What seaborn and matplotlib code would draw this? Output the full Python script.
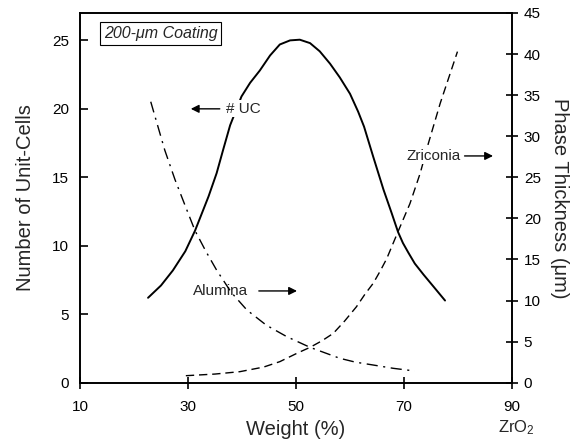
import numpy as np
import pandas as pd
import matplotlib
matplotlib.use("Agg")
import matplotlib.pyplot as plt
import seaborn as sns

# Data
uc_weight = [22.6, 25.0, 27.2, 29.5, 31.3, 32.5, 33.8, 35.3, 36.5, 37.8, 39.9, 41.5, 43.3,
             45.2, 47.0, 48.9, 50.7, 52.6, 54.4, 56.3, 58.1, 60.0, 61.5, 62.6, 64.3,
             66.2, 67.7, 68.9, 69.8, 70.8, 72.0, 73.6, 75.5, 77.6]
uc_count = [6.2, 7.1, 8.2, 9.6, 11.1, 12.3, 13.6, 15.3, 17.0, 18.8, 20.9, 21.9, 22.8,
            23.9, 24.7, 25.0, 25.05, 24.8, 24.2, 23.3, 22.3, 21.1, 19.8, 18.7, 16.5,
            14.1, 12.4, 11.0, 10.2, 9.5, 8.7, 7.9, 7.0, 6.0]

alumina_weight = [23.1, 25.7, 27.6, 29.5, 31.3, 33.3, 35.3, 38.0, 40.9, 44.5, 48.3, 52.6,
                  55.5, 58.1, 61.0, 64.3, 68.0, 72.0]
alumina_thick = [34.2, 28.3, 24.7, 21.5, 18.5, 16.0, 13.7, 11.0, 8.85, 7.0, 5.6, 4.3,
                 3.6, 2.97, 2.5, 2.15, 1.75, 1.42]

zirconia_weight = [29.6, 35.0, 39.6, 44.0, 47.0, 50.4, 52.6, 54.8, 56.9, 59.0, 61.2, 62.8,
                   64.3, 65.6, 66.8, 68.9, 71.1, 73.0, 74.5, 76.7, 79.9]
zirconia_thick = [0.85, 1.05, 1.34, 1.9, 2.56, 3.65, 4.3, 5.1, 6.0, 7.5, 9.25, 10.8,
                  12.1, 13.6, 15.1, 18.4, 21.8, 25.5, 29.1, 34.0, 40.3]

x_ticks = [10, 30, 50, 70, 90]
left_ticks = [0, 5, 10, 15, 20, 25]
right_ticks = [0, 5, 10, 15, 20, 25, 30, 35, 40, 45]

uc = pd.DataFrame({"Weight": uc_weight, "UC": uc_count})
alumina = pd.DataFrame({"Weight": alumina_weight, "Thickness": alumina_thick})
zirconia = pd.DataFrame({"Weight": zirconia_weight, "Thickness": zirconia_thick})

sns.set_style("ticks")
plt.rcParams["font.family"] = ["Liberation Sans", "DejaVu Sans"]
plt.rcParams["mathtext.default"] = "regular"

fig = plt.figure(figsize=(5.76, 4.42), dpi=100)
ax = fig.add_axes([0.1389, 0.1342, 0.75, 0.8364])
ax2 = ax.twinx()

sns.lineplot(data=uc, x="Weight", y="UC", ax=ax, color="black", linewidth=1.4)
sns.lineplot(data=alumina, x="Weight", y="Thickness", ax=ax2, color="black",
             linewidth=1.0, linestyle=(0, (8, 4, 1.5, 4)))
sns.lineplot(data=zirconia, x="Weight", y="Thickness", ax=ax2, color="black",
             linewidth=1.0, linestyle=(0, (6, 3.5)))

ax.set_xlim(10, 90)
ax.set_ylim(0, 27)
ax2.set_ylim(0, 45)
ax.set_xticks(x_ticks)
ax.set_yticks(left_ticks)
ax2.set_yticks(right_ticks)

for a in (ax, ax2):
    for s in a.spines.values():
        s.set_visible(True)
        s.set_color("black")
        s.set_linewidth(1.2)

ax.tick_params(axis="x", direction="inout", length=9, width=1.2, labelsize=11, pad=8, colors="black")
ax.tick_params(axis="y", direction="in", length=6, width=1.2, labelsize=11, pad=8, colors="black")
ax2.tick_params(axis="y", direction="inout", length=9, width=1.2, labelsize=11, pad=4, colors="black")

ax.set_xlabel("Weight (%)", fontsize=14.5, labelpad=4)
ax.set_ylabel("Number of Unit-Cells", fontsize=14.5, labelpad=12)
ax2.set_ylabel("Phase Thickness (\u03bcm)", fontsize=14.5, rotation=270, labelpad=20)

ax.text(90.9, -3.3, "ZrO$_2$", fontsize=12, ha="center", va="center")

ax.text(14.4, 25.5, "200-\u03bcm Coating", fontsize=11.5, style="italic",
        ha="left", va="center",
        bbox=dict(boxstyle="square,pad=0.25", fc="white", ec="black", lw=0.8))

white = dict(boxstyle="square,pad=0.1", fc="white", ec="none")
arrow = dict(arrowstyle="-|>", color="black", lw=1.0, mutation_scale=12)
ax.annotate("", xy=(30.0, 20.0), xytext=(36.4, 20.0), arrowprops=arrow)
ax.text(37.0, 20.0, "# UC", fontsize=11, ha="left", va="center", bbox=white, zorder=5)
ax.annotate("", xy=(50.7, 6.7), xytext=(42.6, 6.7), arrowprops=arrow)
ax.text(41.2, 6.7, "Alumina", fontsize=11, ha="right", va="center", bbox=white, zorder=5)
ax2.annotate("", xy=(87.0, 27.6), xytext=(80.7, 27.6), arrowprops=arrow)
ax2.text(80.5, 27.6, "Zriconia", fontsize=11, ha="right", va="center", bbox=white, zorder=5)

fig.savefig("out.png", dpi=100)
